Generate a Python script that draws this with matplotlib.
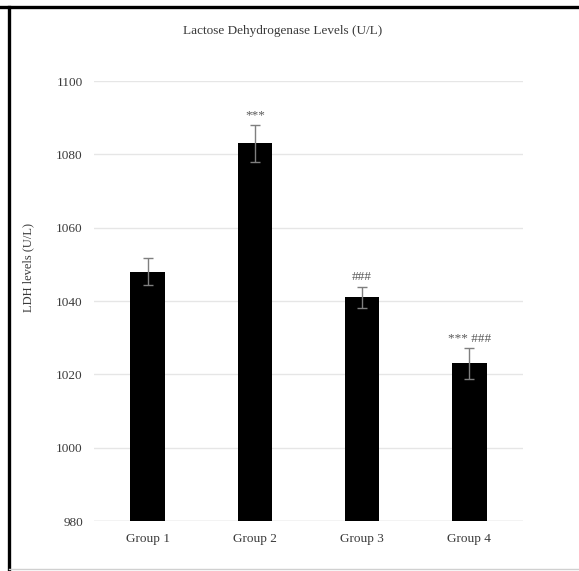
import numpy as np
import matplotlib
matplotlib.use("Agg")
import matplotlib.pyplot as plt
from matplotlib.lines import Line2D

# data
groups = ["Group 1", "Group 2", "Group 3", "Group 4"]
ldh = [1048, 1083, 1041, 1023]
ldh_err = [3.7, 5.0, 2.9, 4.2]
marks = ["", "***", "###", "*** ###"]
yticks = [980, 1000, 1020, 1040, 1060, 1080, 1100]

plt.rcParams['font.family'] = ['Liberation Serif', 'DejaVu Serif']

W, H = 579, 571
fig = plt.figure(figsize=(W / 100, H / 100), dpi=100)
ax = fig.add_axes([94 / W, 1 - 521 / H, (523 - 94) / W, (521 - 81) / H])

txt = "#3a3a3a"
x = np.arange(len(groups))
ax.bar(x, np.array(ldh) - 980, bottom=980, width=0.32, color="black", zorder=3)
ax.errorbar(x, ldh, yerr=ldh_err, fmt="none", ecolor="#7f7f7f",
            elinewidth=1, capsize=3.5, capthick=1, zorder=4)

for xi, v, e, m in zip(x, ldh, ldh_err, marks):
    if m:
        ax.text(xi, v + e + 0.9, m, ha="center", va="bottom",
                fontsize=9.5, color="#595959")

ax.set_xlim(-0.5, len(groups) - 0.5)
ax.set_ylim(980, 1100)
ax.set_yticks(yticks)
ax.set_xticks(x)
ax.set_xticklabels(groups)
ax.tick_params(axis="both", length=0, labelsize=9.5, labelcolor=txt)
ax.tick_params(axis="y", pad=8)
ax.tick_params(axis="x", pad=8.5)
ax.yaxis.grid(True, color="#e6e6e6", linewidth=1, zorder=0)
for s in ax.spines.values():
    s.set_visible(False)
ax.axhline(980, color="#d9d9d9", linewidth=1, zorder=1)

fig.text(283 / W, 1 - 31 / H, "Lactose Dehydrogenase Levels (U/L)",
         ha="center", va="center", fontsize=9.5, color=txt)
fig.text(28 / W, 1 - 267 / H, "LDH levels (U/L)", rotation=90,
         ha="center", va="center", fontsize=9, color=txt)

# frame around the picture
fig.add_artist(Line2D([0, 1], [1 - 7 / H, 1 - 7 / H], transform=fig.transFigure,
                      color="black", linewidth=2.4))
fig.add_artist(Line2D([9 / W, 9 / W], [0, 1 - 7 / H], transform=fig.transFigure,
                      color="black", linewidth=2.4))
fig.add_artist(Line2D([9 / W, 1], [1 - 569 / H, 1 - 569 / H], transform=fig.transFigure,
                      color="#d0d0d0", linewidth=1))

fig.savefig("out.png", dpi=100)
